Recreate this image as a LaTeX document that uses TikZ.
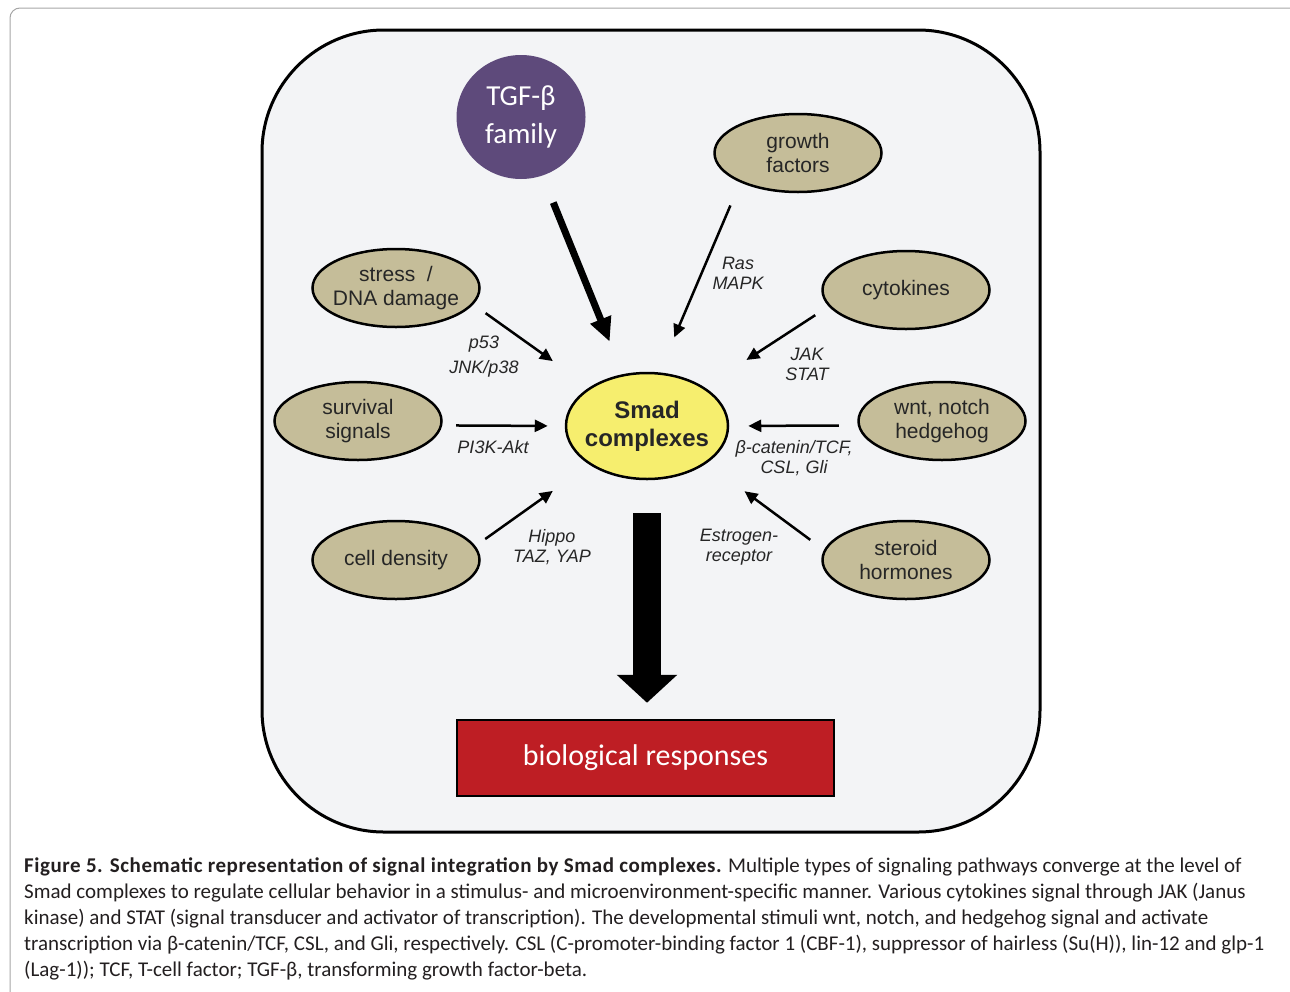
\documentclass[tikz,border=0pt]{standalone}
\usepackage{fontspec}
\setmainfont{Liberation Sans}
\newfontfamily\calfont{Carlito}
\usetikzlibrary{arrows.meta,shapes.geometric}
\definecolor{boxgray}{HTML}{F3F4F6}
\definecolor{stimtan}{HTML}{C5BD99}
\definecolor{smadyellow}{HTML}{F6EE6E}
\definecolor{tgfpurple}{HTML}{5E4A7B}
\definecolor{respred}{HTML}{BE1E24}
\definecolor{textgray}{HTML}{262626}
\definecolor{capgray}{HTML}{231F20}
\begin{document}
\begin{tikzpicture}[x=1pt,y=-1pt,
    stim/.style={ellipse,draw,line width=2.5pt,fill=stimtan,minimum width=167pt,minimum height=78pt,
      inner xsep=-6pt,inner ysep=0pt,align=center,text=textgray,font=\fontsize{21}{24}\selectfont},
    sig/.style={line width=2.5pt,-{Triangle[length=13pt,width=12pt]}},
    pathway/.style={align=center,text=textgray,font=\itshape\fontsize{18}{20}\selectfont}]
      \useasboundingbox (0,0) rectangle (1290,991);
      \draw[gray!70,line width=1pt,rounded corners=10pt] (10,8) rectangle (1300,1010);
      \draw[line width=3pt,fill=boxgray,rounded corners=122pt] (262,30) rectangle (1040,832);
      \node[ellipse,fill=tgfpurple,minimum width=129pt,minimum height=124pt,inner sep=0pt,align=center,
        text=white,font=\calfont\fontsize{29}{38}\selectfont] (tgf) at (521,117) {TGF-β\\family};
      \node[ellipse,draw,line width=2.5pt,fill=smadyellow,minimum width=162pt,minimum height=106pt,
        inner xsep=-6pt,inner ysep=0pt,align=center,text=textgray,font=\bfseries\fontsize{24}{28}\selectfont]
        (smad) at (647,426) {Smad\\complexes};
      \node[stim] (growth) at (798,153) {growth\\factors};
      \node[stim] (stress) at (396,288) {stress\ \ /\\DNA damage};
      \node[stim] (cyto) at (906,290) {cytokines};
      \node[stim] (surv) at (358,421) {survival\\signals};
      \node[stim] (wnt) at (942,421) {wnt, notch\\hedgehog};
      \node[stim] (dens) at (396,560) {cell density};
      \node[stim] (steroid) at (906,560) {steroid\\hormones};
      \node[draw,line width=2.5pt,fill=respred,minimum width=377pt,minimum height=76pt,text=white,
        font=\calfont\fontsize{30}{36}\selectfont] (resp) at (645.5,758) {biological responses};
      \draw[line width=7pt,-{Triangle[length=24pt,width=21pt]},shorten <=29pt,shorten >=35pt] (tgf.-70) -- (smad.115);
      \draw[sig,shorten <=25pt,shorten >=38pt] (growth.-153) -- (smad.77);
      \draw[sig,shorten <=15pt,shorten >=45pt] (stress.-12) -- (smad.146);
      \draw[sig,shorten <=16pt,shorten >=50pt] (cyto.-168) -- (smad.34);
      \draw[sig,shorten <=14pt,shorten >=17pt] (surv.-3) -- (smad.180);
      \draw[sig,shorten <=19pt,shorten >=19pt] (wnt.-177) -- (smad.0);
      \draw[sig,shorten <=12pt,shorten >=45pt] (dens.10) -- (smad.-146);
      \draw[sig,shorten <=17pt,shorten >=47pt] (steroid.173) -- (smad.-32);
      \draw[line width=28pt,-{Triangle[length=28pt,width=59pt]},shorten <=33pt,shorten >=16pt]
        (smad.south) -- (smad.south |- resp.north);
      \node[pathway] (ras) at (738,273) {Ras\\MAPK};
      \node[pathway] (p53) at (484,357) {p53\\[5pt]JNK/p38};
      \node[pathway] (jak) at (807,364) {JAK\\STAT};
      \node[pathway] (pi3k) at (493,447) {PI3K-Akt};
      \node[pathway] (bcat) at (794,458) {β-catenin/TCF,\\CSL, Gli};
      \node[pathway] (hippo) at (552,547) {Hippo\\TAZ, YAP};
      \node[pathway] (estr) at (739,547) {Estrogen-\\receptor};
      \node[anchor=base west,align=left,text=capgray,inner sep=0pt,
        font=\calfont\fontsize{21}{25.8}\selectfont] (cap) at (24,976)
        {{\bfseries\addfontfeatures{LetterSpace=2.6}Figure 5. Schematic representation of signal integration by Smad complexes.} Multiple types of signaling pathways converge at the level of\\
        Smad complexes to regulate cellular behavior in a stimulus- and microenvironment-specific manner. Various cytokines signal through JAK (Janus\\
        kinase) and STAT (signal transducer and activator of transcription). The developmental stimuli wnt, notch, and hedgehog signal and activate\\
        transcription via β-catenin/TCF, CSL, and Gli, respectively. CSL (C-promoter-binding factor 1 (CBF-1), suppressor of hairless (Su(H)), lin-12 and glp-1\\
        (Lag-1)); TCF, T-cell factor; TGF-β, transforming growth factor-beta.};
    \end{tikzpicture}
\end{document}
